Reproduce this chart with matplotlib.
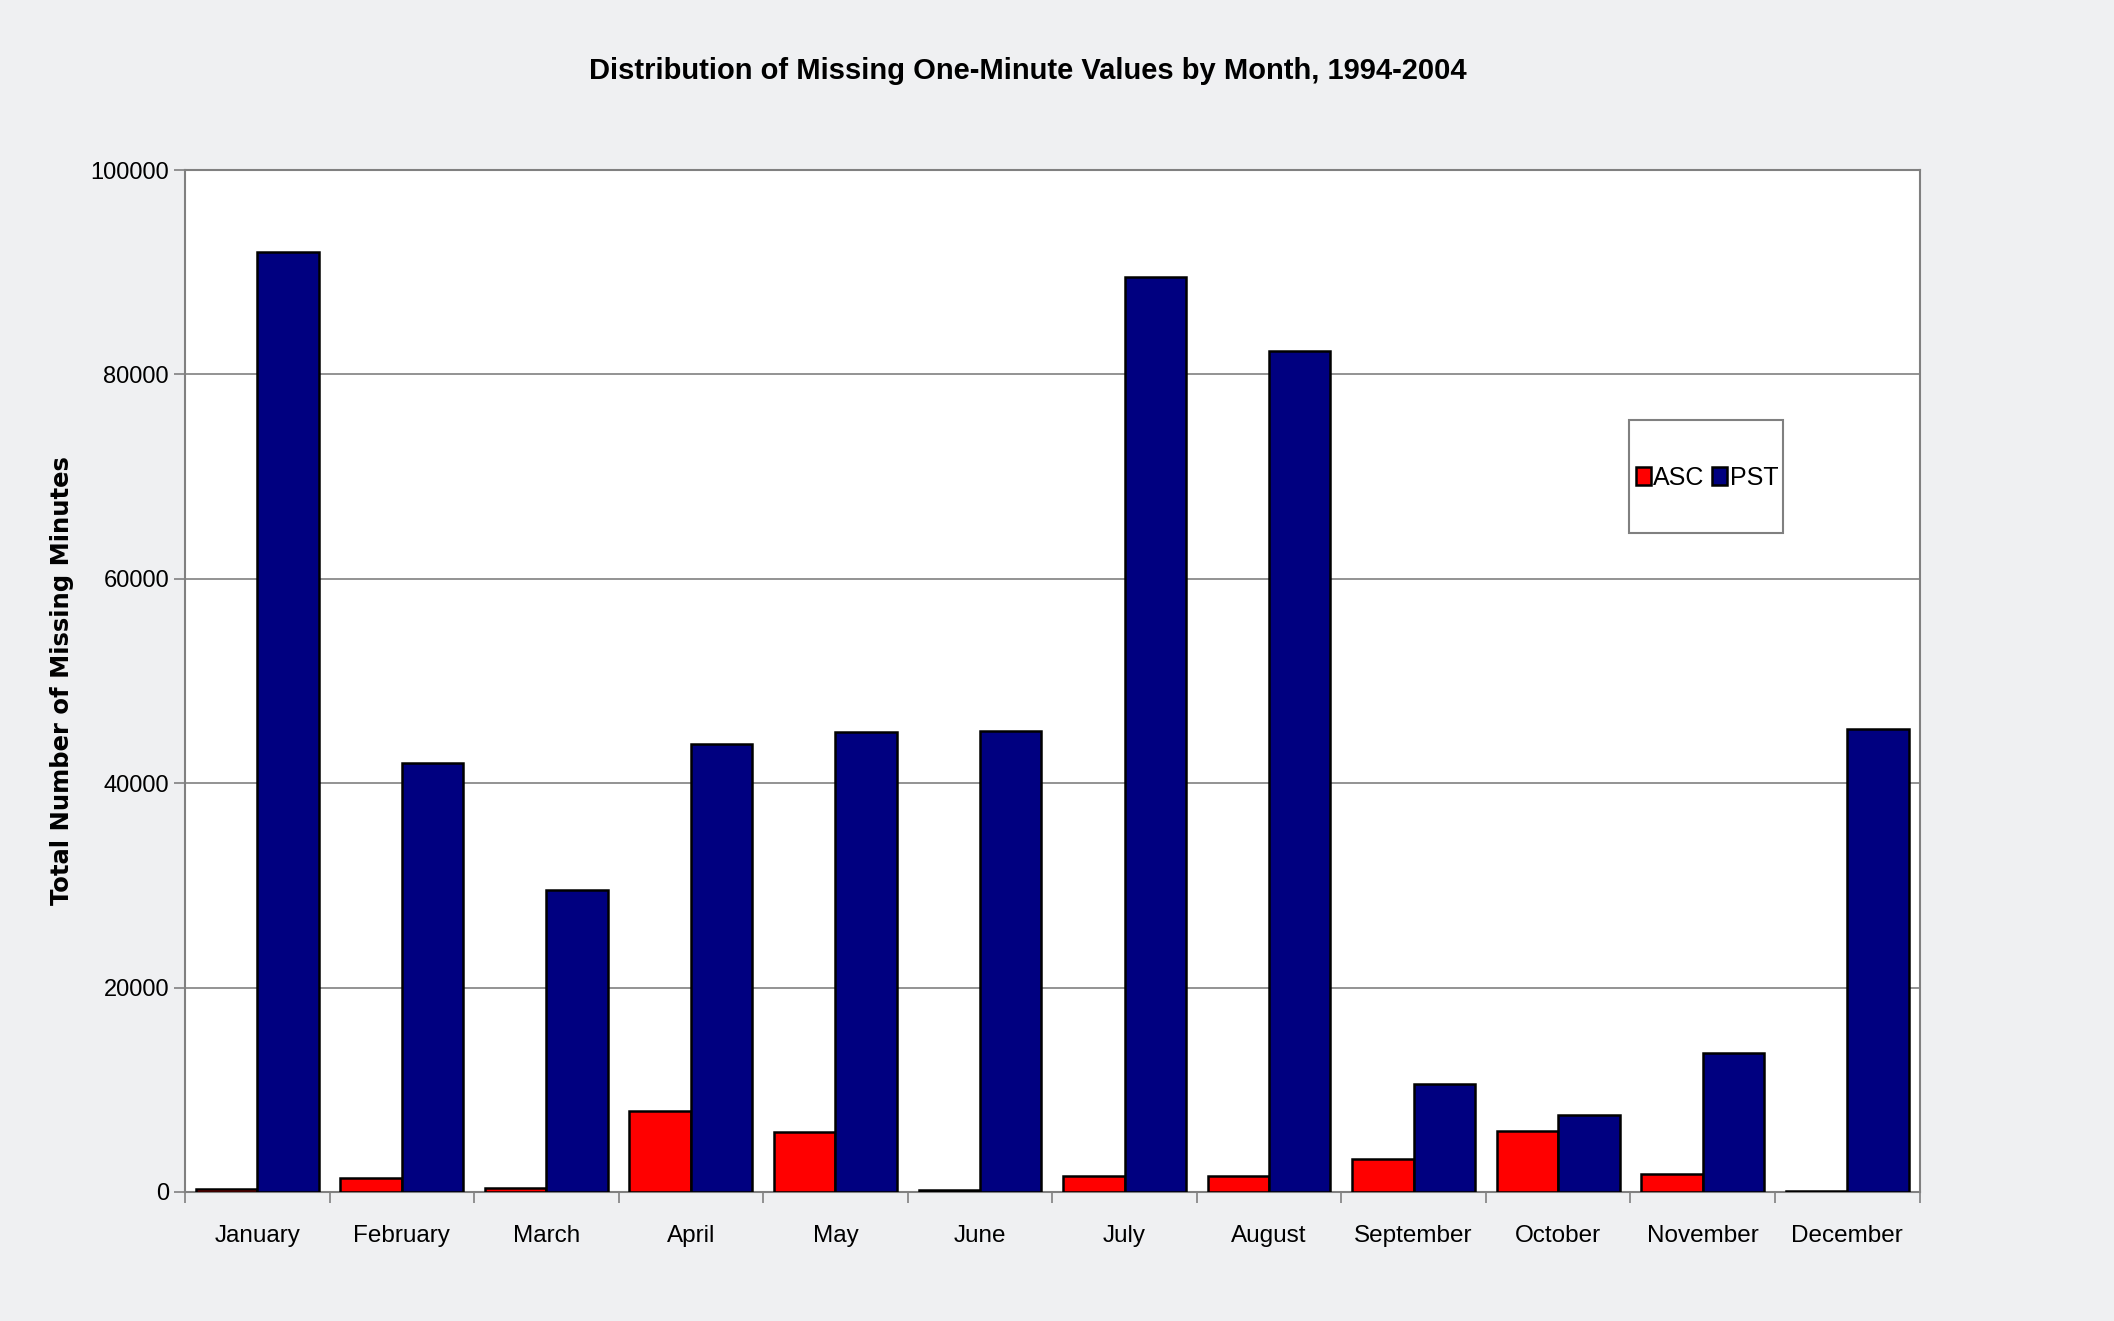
import matplotlib.pyplot as plt
from matplotlib.patches import Rectangle
import numpy as np

plt.rcParams['font.family'] = ['Liberation Sans', 'DejaVu Sans']

months = ["January", "February", "March", "April", "May", "June",
          "July", "August", "September", "October", "November", "December"]
asc = [330, 1340, 390, 7960, 5900, 230, 1530, 1530, 3260, 6000, 1730, 100]
pst = [92000, 42000, 29500, 43800, 45000, 45100, 89500, 82300, 10600, 7530, 13550, 45300]

bg = "#eff0f2"
fig = plt.figure(figsize=(21.14, 13.21), dpi=100, facecolor=bg)
ax = fig.add_axes([0.0875, 0.0977, 0.8205, 0.7736])
ax.set_facecolor("white")

x = np.arange(len(months))
w = 0.425
ax.bar(x - w / 2, asc, w, color="#ff0000", edgecolor="black", linewidth=1.8, label="ASC", zorder=3)
ax.bar(x + w / 2, pst, w, color="#000080", edgecolor="black", linewidth=1.8, label="PST", zorder=3)

ax.set_xlim(-0.5, len(months) - 0.5)
ax.set_ylim(0, 100000)
ax.set_yticks(np.arange(0, 100001, 20000))
ax.yaxis.grid(True, color="#808080", linewidth=1.2, zorder=0)
ax.set_xticks(x)
ax.set_xticklabels(months, fontsize=17.5)
ax.set_xticks(np.arange(-0.5, len(months)), minor=True)
ax.tick_params(axis="x", which="major", length=0, pad=24)
ax.tick_params(axis="x", which="minor", length=8, width=1.2, color="#808080")
ax.tick_params(axis="y", labelsize=17, length=8, width=1.2, color="#808080")
for s in ax.spines.values():
    s.set_color("#808080")
    s.set_linewidth(1.5)

ax.set_ylabel("Total Number of Missing Minutes", fontsize=17.5, fontweight="bold",
              family=['DejaVu Sans'])
ax.yaxis.set_label_coords(-0.064, 0.5)
fig.text(0.486, 0.946, "Distribution of Missing One-Minute Values by Month, 1994-2004",
         fontsize=21, fontweight="bold", ha="center", va="center")

# legend box drawn separately so its padding matches the original
ax.add_patch(Rectangle((0.7706, 0.5965), 0.0728, 0.0855, transform=fig.transFigure,
                       facecolor="white", edgecolor="#808080", linewidth=1.5,
                       zorder=4, clip_on=False))
leg = ax.legend(loc="center", bbox_to_anchor=(0.8075, 0.6382), bbox_transform=fig.transFigure,
                ncol=2, frameon=False, handlelength=0.6, handleheight=0.72,
                columnspacing=0.3, handletextpad=0.1, fontsize=18)
leg.set_zorder(5)

fig.savefig("out.png", dpi=100, facecolor=bg)
